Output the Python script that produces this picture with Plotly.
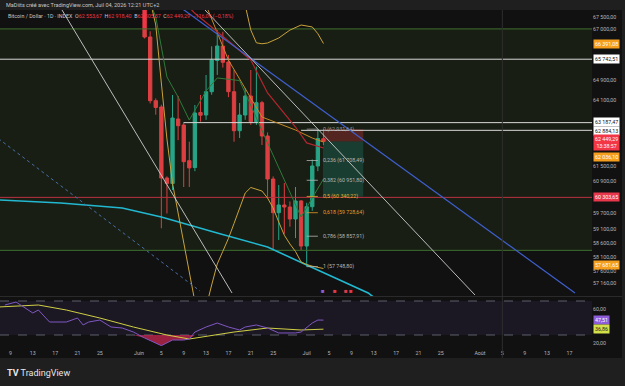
import math
import plotly.graph_objects as go

# ---------------- data ----------------
candle_dates = ["2026-06-%02d" % d for d in range(2, 31)] + ["2026-07-%02d" % d for d in range(1, 5)]
opens = [68200, 66662, 64060, 63808, 61039, 60830, 63331, 63094, 61703, 61440, 63590, 63490, 64421, 65690, 66288,
         65628, 64421, 62869, 63490, 64248, 63225, 63980, 62661, 61000, 59729, 60017, 59941, 59494, 60168, 58498,
         59953, 61499, 62553.67]
highs = [68400, 66900, 64150, 63900, 61100, 64288, 64248, 63200, 62440, 63888, 64288, 65097, 66275, 66954, 66880,
         65915, 65301, 63968, 64570, 65301, 65436, 64050, 62800, 61100, 60772, 60848, 60150, 60696, 60200, 60100,
         61750, 62931.64, 62918.40]
lows = [66600, 63950, 63500, 59150, 59700, 60582, 62500, 60696, 60696, 61300, 63225, 63300, 64300, 65100, 65400,
        64200, 62439, 62583, 63300, 63100, 63100, 62311, 60330, 58352, 58718, 58950, 59208, 58790, 58352, 57748.80,
        59800, 61300, 62305.37]
closes = [66662, 64060, 63790, 61039, 60830, 63371, 63066, 61664, 61425, 63569, 63480, 64421, 65710, 66288, 65615,
          64421, 62869, 63490, 64248, 63225, 63980, 62661, 61000, 59729, 60017, 59941, 59494, 60168, 58498, 59953,
          61499, 62565.38, 62449.29]

# moving averages / bands
cyan_dates = ["2026-05-07", "2026-05-18", "2026-05-29", "2026-06-05", "2026-06-15", "2026-06-24", "2026-07-01", "2026-07-12", "2026-07-14"]
cyan_vals = [60205, 60092, 59904, 59569, 58976, 58462, 57808, 56806, 56500]

bb_up_dates = ["2026-06-20", "2026-06-21", "2026-06-22", "2026-06-23", "2026-06-24", "2026-06-26", "2026-06-28", "2026-06-30", "2026-07-02", "2026-07-03", "2026-07-04"]
bb_up_vals = [68000, 66954, 66420, 66380, 66412, 66620, 66950, 67163, 67081, 66800, 66391.08]

bb_lo_dates = ["2026-06-03", "2026-06-04", "2026-06-05", "2026-06-06", "2026-06-07", "2026-06-08", "2026-06-09", "2026-06-10",
               "2026-06-11", "2026-06-12", "2026-06-13", "2026-06-14", "2026-06-15", "2026-06-16", "2026-06-17", "2026-06-18",
               "2026-06-19", "2026-06-20", "2026-06-21", "2026-06-22", "2026-06-23", "2026-06-24", "2026-06-25", "2026-06-26",
               "2026-06-27", "2026-06-28", "2026-06-29", "2026-06-30", "2026-07-01", "2026-07-02", "2026-07-03", "2026-07-04"]
bb_lo_vals = [68200, 67163, 64772, 62545, 60832, 59707, 58619, 57530, 56500, 56100, 56300, 57090, 57845, 58306, 58776, 59328,
              59893, 60468, 60678, 60610, 60544, 60280, 59904, 59383, 58893, 58572, 58298, 57917, 57825, 57767, 57720, 57681.65]

basis_dates = ["2026-06-13", "2026-06-17", "2026-06-23", "2026-06-29", "2026-07-02", "2026-07-04"]
basis_vals = [68000, 65710, 63410, 62897, 62583, 62427]

red_ma_dates = ["2026-06-10", "2026-06-11", "2026-06-17", "2026-06-21", "2026-06-24", "2026-06-29", "2026-07-01", "2026-07-04"]
red_ma_vals = [67900, 67656, 66495, 65710, 64369, 63015, 62391, 62194]

green_ma_dates = ["2026-06-03", "2026-06-04", "2026-06-06", "2026-06-08", "2026-06-10", "2026-06-13", "2026-06-15", "2026-06-19", "2026-06-24", "2026-06-28", "2026-06-30", "2026-07-04"]
green_ma_vals = [68100, 67500, 65015, 64208, 63291, 64449, 64976, 64871, 62391, 60468, 59569, 61000]

# drawings
blue_trend_x = ["2026-06-08 15:20", "2026-08-18 00:00"]
blue_trend_y = [67868, 56806]
white_trend1_x = ["2026-05-18 05:30", "2026-06-17 15:20"]
white_trend1_y = [67796, 56806]
white_trend2_x = ["2026-06-12 19:30", "2026-07-31 02:30"]
white_trend2_y = [67796, 56735]
dotted_x = ["2026-05-06", "2026-06-11 22:00"]
dotted_y = [62700, 56876]

hlines_full = [65742.51]
hray_63187_start = "2026-06-09"
hray_62884_start = "2026-06-30"
red_level = 60303.65
zone_top, zone_bottom = 67000, 58340

fib_start, fib_end = "2026-07-01", "2026-07-03"
fib_levels = [0, 0.236, 0.382, 0.5, 0.618, 0.786, 1]
fib_prices = [62931.64, 61708.49, 60951.80, 60340.22, 59728.64, 58857.91, 57748.80]
fib_texts = ["0 (62 931,64)", "0,236 (61 708,49)", "0,382 (60 951,80)", "0,5 (60 340,22)", "0,618 (59 728,64)", "0,786 (58 857,91)", "1 (57 748,80)"]
fib_colors = ["#9a9a9a", "#b5b5b5", "#b5b5b5", "#e0b030", "#e89a2a", "#b5b5b5", "#b5b5b5"]

pos_x0, pos_x1 = "2026-07-03 22:00", "2026-07-11 03:00"
pos_entry, pos_stop, pos_target = 62449.29, 62931.64, 60340.22

# RSI
rsi_dates = ["2026-05-08", "2026-05-10", "2026-05-13", "2026-05-14", "2026-05-16", "2026-05-19", "2026-05-21", "2026-05-22",
             "2026-05-23", "2026-05-25", "2026-05-27", "2026-05-29", "2026-05-31", "2026-06-02", "2026-06-05", "2026-06-07",
             "2026-06-09", "2026-06-10", "2026-06-11", "2026-06-13", "2026-06-15", "2026-06-17", "2026-06-19", "2026-06-20",
             "2026-06-22", "2026-06-24", "2026-06-26", "2026-06-28", "2026-06-29", "2026-06-30", "2026-07-02", "2026-07-03", "2026-07-04"]
rsi_vals = [65.3, 68.8, 55.9, 59.4, 45.3, 45.3, 50.0, 41.8, 45.3, 47.6, 39.4, 38.2, 33.5, 26.5, 17.5, 24.1,
            24.1, 25.3, 33.5, 39.4, 44.1, 39.4, 35.9, 39.4, 41.8, 38.2, 32.4, 32.4, 32.4, 33.5, 44.1, 47.6, 47.51]
rsi_ma_dates = ["2026-05-07", "2026-05-14", "2026-05-19", "2026-05-25", "2026-05-31", "2026-06-06", "2026-06-10", "2026-06-15",
                "2026-06-18", "2026-06-24", "2026-06-30", "2026-07-04"]
rsi_ma_vals = [63.0, 65.3, 59.4, 50.0, 39.4, 30.0, 25.3, 30.0, 33.5, 38.2, 35.9, 36.86]

price_tick_vals = [67500, 67000, 64900, 64100, 61500, 60900, 59700, 59100, 58600, 58100, 57600, 57160]
price_tick_text = ["67 500,00", "67 000,00", "64 900,00", "64 100,00", "61 500,00", "60 900,00", "59 700,00",
                   "59 100,00", "58 600,00", "58 100,00", "57 600,00", "57 160,00"]
time_tick_vals = ["2026-05-09", "2026-05-13", "2026-05-17", "2026-05-21", "2026-05-25", "2026-06-01", "2026-06-05",
                  "2026-06-09", "2026-06-13", "2026-06-17", "2026-06-21", "2026-06-25", "2026-07-01", "2026-07-05",
                  "2026-07-09", "2026-07-13", "2026-07-17", "2026-07-21", "2026-07-25", "2026-08-01", "2026-08-05",
                  "2026-08-09", "2026-08-13", "2026-08-17"]
time_tick_text = ["9", "13", "17", "21", "25", "Juin", "5", "9", "13", "17", "21", "25", "Juil", "5", "9", "13", "17",
                  "21", "25", "Août", "5", "9", "13", "17"]

# ---------------- geometry ----------------
W, H = 625, 386
PLOT_R = 592 / W
def py(px):
    return 1 - px / H

X_LEFT, X_RIGHT = "2026-05-07 03:13", "2026-08-21 01:00"
Y_LO, Y_HI = 56699, 67796
RSI_LO, RSI_HI = 17.06, 74.71

FONT = "Roboto, Liberation Sans, Arial, sans-serif"
TXT = "#b2b5be"
GREEN, RED = "#22ab94", "#f23645"

fig = go.Figure()

def line(x, y, color, width=1, dash=None, xa="x", ya="y", opacity=1.0):
    fig.add_trace(go.Scatter(x=x, y=y, mode="lines", xaxis=xa, yaxis=ya, opacity=opacity,
                             line=dict(color=color, width=width, dash=dash), hoverinfo="skip"))

# green zone rectangle
fig.add_trace(go.Scatter(x=["2026-05-01", "2026-09-01", "2026-09-01", "2026-05-01", "2026-05-01"],
                         y=[zone_top, zone_top, zone_bottom, zone_bottom, zone_top], mode="lines", fill="toself",
                         fillcolor="rgba(80,120,50,0.13)", line=dict(color="#3f6e2f", width=1), hoverinfo="skip"))

# position tool
fig.add_trace(go.Scatter(x=[pos_x0, pos_x1, pos_x1, pos_x0, pos_x0], y=[pos_entry, pos_entry, pos_stop, pos_stop, pos_entry],
                         mode="lines", fill="toself", fillcolor="rgba(242,54,69,0.28)", line=dict(width=0), hoverinfo="skip"))
fig.add_trace(go.Scatter(x=[pos_x0, pos_x1, pos_x1, pos_x0, pos_x0], y=[pos_target, pos_target, pos_entry, pos_entry, pos_target],
                         mode="lines", fill="toself", fillcolor="rgba(34,171,148,0.22)", line=dict(width=0), hoverinfo="skip"))

# horizontal levels
for lv in hlines_full:
    line(["2026-05-01", "2026-09-01"], [lv, lv], "#d8d8d8", 1)
line([hray_63187_start, "2026-09-01"], [63187.47, 63187.47], "#d8d8d8", 1)
line([hray_62884_start, "2026-09-01"], [62884.13, 62884.13], "#d8d8d8", 1)
line(["2026-05-01", "2026-09-01"], [red_level, red_level], "#b8323f", 1)

# indicators
line(cyan_dates, cyan_vals, "#22b8d0", 1.6)
line(bb_up_dates, bb_up_vals, "#c9a23a", 1)
line(bb_lo_dates, bb_lo_vals, "#c9a23a", 1)
line(basis_dates, basis_vals, "#c58a26", 1)
line(red_ma_dates, red_ma_vals, "#b3262f", 1.2)
line(green_ma_dates, green_ma_vals, "#2f7a3a", 1)

# drawings
line(blue_trend_x, blue_trend_y, "#3f5fd0", 1.2)
line(white_trend1_x, white_trend1_y, "#cfcfcf", 0.9)
line(white_trend2_x, white_trend2_y, "#cfcfcf", 0.9)
line(dotted_x, dotted_y, "#4a6fa5", 1, dash="dot")

# fib short level lines
for p, c in zip(fib_prices, fib_colors):
    line([fib_start, fib_end], [p, p], c, 0.8)

# candles
fig.add_trace(go.Candlestick(x=candle_dates, open=opens, high=highs, low=lows, close=closes,
                             increasing=dict(line=dict(color=GREEN, width=1), fillcolor=GREEN),
                             decreasing=dict(line=dict(color=RED, width=1), fillcolor=RED),
                             whiskerwidth=0, hoverinfo="skip"))

# RSI pane
line([X_LEFT, X_RIGHT, X_RIGHT, X_LEFT, X_LEFT], [70, 70, 30, 30, 70], "rgba(0,0,0,0)", 0, xa="x2", ya="y2")
fig.data[-1].update(fill="toself", fillcolor="rgba(126,87,194,0.10)")
line([X_LEFT, X_RIGHT], [70, 70], "#6f7280", 0.8, dash="dash", xa="x2", ya="y2")
line([X_LEFT, X_RIGHT], [30, 30], "#6f7280", 0.8, dash="dash", xa="x2", ya="y2")
# oversold fill
os_idx = [i for i, v in enumerate(rsi_vals) if v < 30]
i0, i1 = os_idx[0] - 1, os_idx[-1] + 1
os_x = rsi_dates[i0:i1 + 1]
os_y = [min(v, 30) for v in rsi_vals[i0:i1 + 1]]
fig.add_trace(go.Scatter(x=os_x, y=[30] * len(os_x), mode="lines", line=dict(width=0), xaxis="x2", yaxis="y2", hoverinfo="skip"))
fig.add_trace(go.Scatter(x=os_x, y=os_y, mode="lines", line=dict(width=0), fill="tonexty", fillcolor="rgba(200,40,80,0.75)",
                         xaxis="x2", yaxis="y2", hoverinfo="skip"))
line(rsi_ma_dates, rsi_ma_vals, "#cfcf45", 1, xa="x2", ya="y2")
line(rsi_dates, rsi_vals, "#7e57c2", 1, xa="x2", ya="y2")

# ---------------- layout ----------------
shapes = [
    dict(type="rect", xref="paper", yref="paper", x0=0, x1=622 / W, y0=py(358), y1=py(10), fillcolor="#111111",
         line=dict(width=0), layer="below"),
    dict(type="line", xref="paper", yref="paper", x0=0, x1=622 / W, y0=py(296.5), y1=py(296.5),
         line=dict(color="#2a2a2a", width=1)),
    dict(type="line", xref="x", yref="paper", x0="2026-08-05", x1="2026-08-05", y0=py(358), y1=py(10),
         line=dict(color="#2e2e2e", width=1)),
]

annotations = []
def ann(**kw):
    base = dict(showarrow=False, font=dict(family=FONT, size=5.5, color=TXT))
    base.update(kw)
    annotations.append(base)

ann(text="MaDiits créé avec TradingView.com, Juil 04, 2026 12:21 UTC+2", xref="paper", yref="paper",
    x=4 / W, y=py(5), xanchor="left", yanchor="middle", font=dict(family=FONT, size=5.5, color="#c8c8c8"))
legend = ("Bitcoin / Dollar · 1D · INDEX  O<span style='color:#f23645'>62 553,67</span>  "
          "H<span style='color:#f23645'>62 918,40</span>  B<span style='color:#f23645'>62 305,37</span>  "
          "C<span style='color:#f23645'>62 449,29  −116,09 (−0,18%)</span>")
ann(text=legend, xref="paper", yref="paper", x=6 / W, y=py(16), xanchor="left", yanchor="middle",
    font=dict(family=FONT, size=5.3, color="#c8c8c8"))

# fib labels
for p, t, c in zip(fib_prices, fib_texts, fib_colors):
    ann(text=t, xref="x", yref="y", x="2026-07-03 12:00", y=math.log10(p), xanchor="left", yanchor="middle",
        font=dict(family=FONT, size=5.3, color=c))

# price-scale labels
def plabel(price, text, bg, fg, shift=0):
    ann(text=text, xref="paper", yref="y", x=PLOT_R + 1 / W, y=math.log10(price), xanchor="left", yanchor="middle",
        yshift=shift, bgcolor=bg, borderpad=1, font=dict(family=FONT, size=5.3, color=fg))

plabel(66391.08, "66 391,08", "#f59e1d", "#ffffff")
plabel(65742.51, "65 742,51", "#ffffff", "#111111")
plabel(63187.47, "63 187,47", "#ffffff", "#111111", shift=1)
plabel(62884.13, "62 884,13", "#ffffff", "#111111", shift=-1)
plabel(61900, "62 036,10", "#f59e1d", "#ffffff", shift=-1)
plabel(62449.29, "62 449,29<br>13:38:57", "#f23645", "#ffffff", shift=-1)
plabel(60303.65, "60 303,65", "#e8364a", "#ffffff")
plabel(57681.65, "57 681,65", "#f59e1d", "#ffffff", shift=4)

def rlabel(v, text, bg, fg):
    ann(text=text, xref="paper", yref="y2", x=PLOT_R + 1 / W, y=v, xanchor="left", yanchor="middle",
        bgcolor=bg, borderpad=1, font=dict(family=FONT, size=5.3, color=fg))
rlabel(47.51, "47,51", "#8e5cd9", "#ffffff")
rlabel(36.86, "36,86", "#d4e04a", "#222222")

# event icons
for d, col in [("2026-07-04", "#8e5cd9"), ("2026-07-06", "#e23a4a"), ("2026-07-08", "#e23a4a"), ("2026-07-09", "#e23a4a")]:
    ann(text="■", xref="x", yref="paper", x=d, y=py(290), xanchor="center", yanchor="middle",
        font=dict(family=FONT, size=6, color=col))

ann(text="<b>TV</b> TradingView", xref="paper", yref="paper", x=5 / W, y=py(373), xanchor="left", yanchor="middle",
    font=dict(family=FONT, size=9, color="#e6e6e6"))

fig.update_layout(
    width=W, height=H, margin=dict(l=0, r=0, t=0, b=0),
    paper_bgcolor="#1f1f1f", plot_bgcolor="rgba(0,0,0,0)", showlegend=False, boxgap=0.15,
    font=dict(family=FONT, size=5.5, color=TXT),
    xaxis=dict(domain=[0, PLOT_R], range=[X_LEFT, X_RIGHT], type="date", showgrid=False, zeroline=False,
               showticklabels=False, anchor="y", rangeslider=dict(visible=False), showline=False),
    yaxis=dict(domain=[py(296), py(10)], type="log", range=[math.log10(Y_LO), math.log10(Y_HI)], side="right",
               tickvals=price_tick_vals, ticktext=price_tick_text, showgrid=False, zeroline=False, anchor="x",
               tickfont=dict(family=FONT, size=5.3, color=TXT), ticks=""),
    xaxis2=dict(domain=[0, PLOT_R], range=[X_LEFT, X_RIGHT], type="date", showgrid=False, zeroline=False,
                anchor="y2", matches="x", tickvals=time_tick_vals, ticktext=time_tick_text, ticks="",
                ticklabelstandoff=3, tickfont=dict(family=FONT, size=5.3, color=TXT)),
    yaxis2=dict(domain=[py(346), py(297)], range=[RSI_LO, RSI_HI], side="right", tickvals=[60, 20],
                ticktext=["60,00", "20,00"], showgrid=False, zeroline=False, anchor="x2", ticks="",
                tickfont=dict(family=FONT, size=5.3, color=TXT)),
    shapes=shapes, annotations=annotations,
)

fig.write_html("out.html")
